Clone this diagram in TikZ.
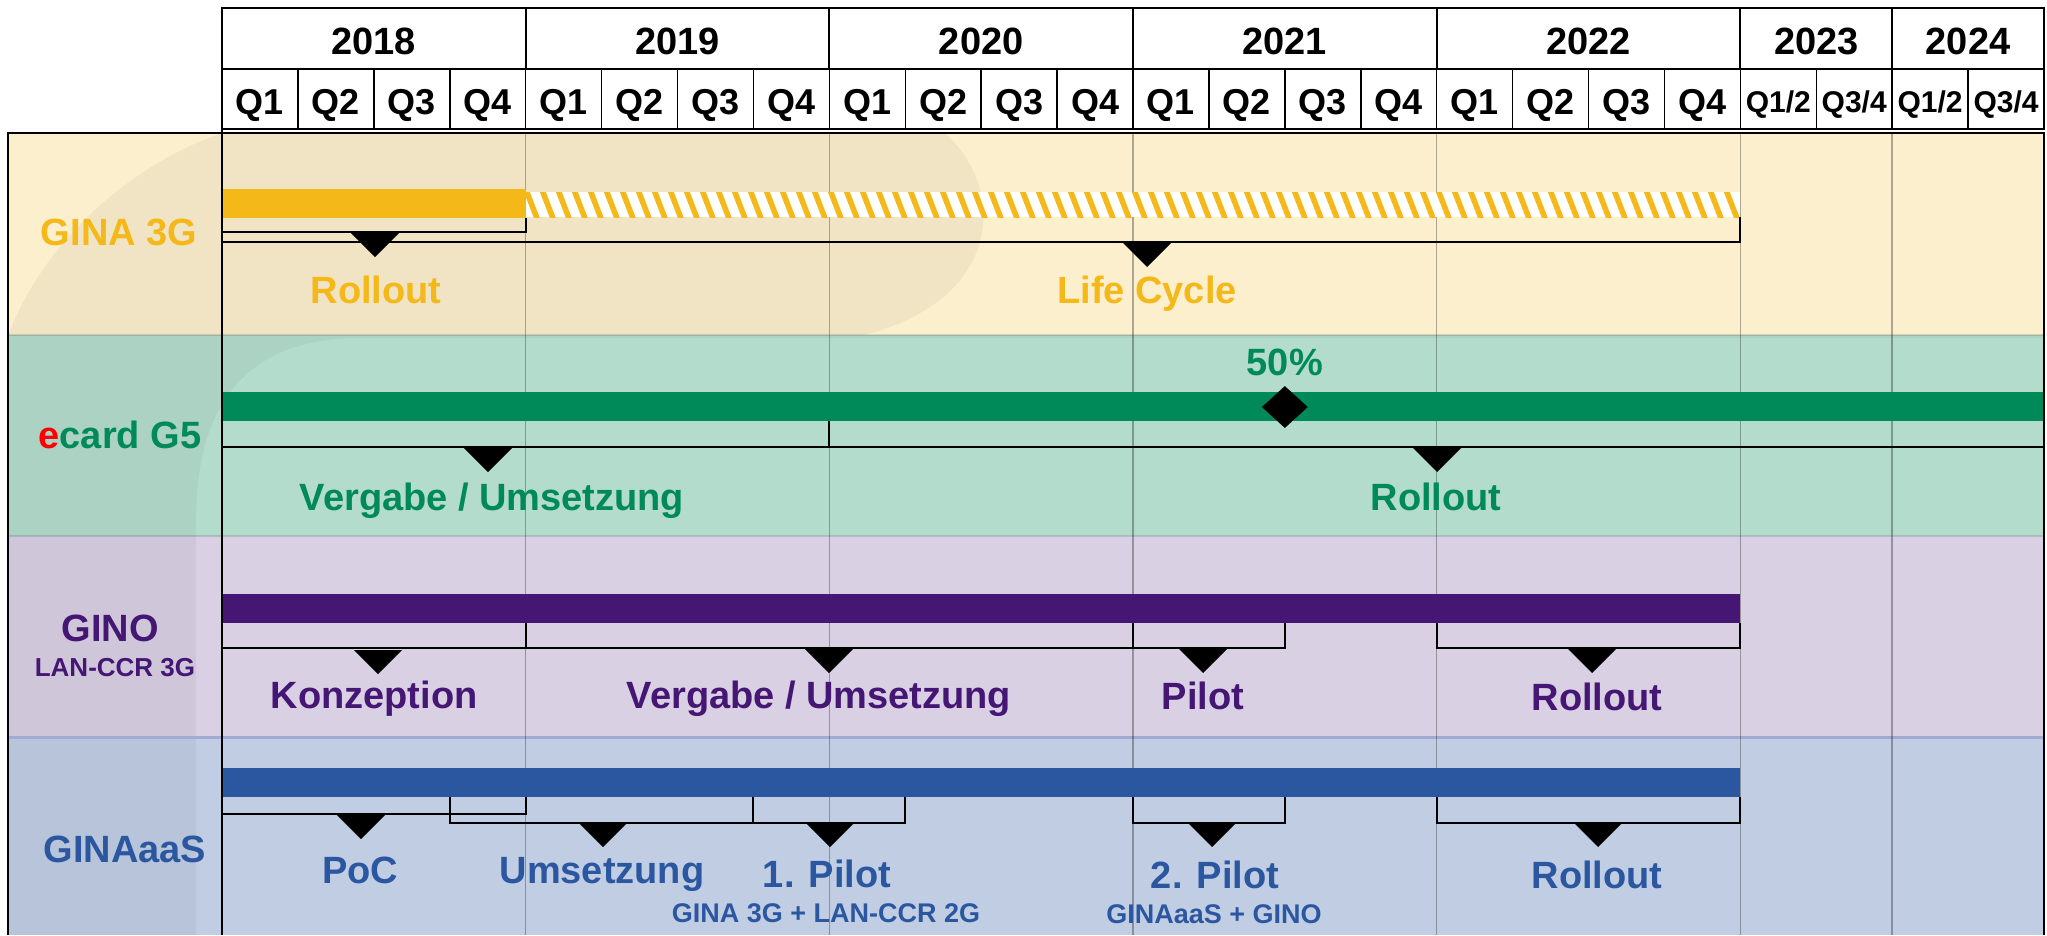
\documentclass[tikz,border=0pt]{standalone}
\usepackage{fontspec}
\setmainfont{Liberation Sans}
\usetikzlibrary{shapes.geometric}

\definecolor{ginaY}{HTML}{F4B818}
\definecolor{ecardG}{HTML}{008A5A}
\definecolor{ginoP}{HTML}{451674}
\definecolor{gaasB}{HTML}{2B57A0}
\definecolor{ginaBg}{HTML}{FCEFCD}
\definecolor{ecardBg}{HTML}{B3DCCC}
\definecolor{ginoBg}{HTML}{D9D0E3}
\definecolor{gaasBg}{HTML}{C0CDE3}
\definecolor{sepline}{HTML}{A3A9D2}

% x of the start of quarter #1 (0 = 2018 Q1)
\newcommand\qx[1]{222+75.917*(#1)}
% bracket under a bar: from quarter #1 to #2, bar bottom #3, bracket at #4
\newcommand\phasebr[4]{\draw[phase] ({\qx{#1}},#3) |- ({\qx{#2}},#4) -- ({\qx{#2}},#3);}
% black pointer below a bracket
\newcommand\phasetri[2]{\fill (#1-24,#2) -- (#1+24,#2) -- (#1,#2+24) -- cycle;}

\tikzset{
  lbl/.style={font=\bfseries\fontsize{38}{40}\selectfont, inner sep=0pt, anchor=base},
  sublbl/.style={font=\bfseries\fontsize{27}{28}\selectfont, inner sep=0pt, anchor=base},
  halflbl/.style={font=\bfseries\fontsize{30}{32}\selectfont, inner sep=0pt, anchor=base},
  phase/.style={line width=2pt},
  yearline/.style={draw=black, opacity=.3, line width=1.5pt},
  hdrline/.style={line width=2pt},
}

\begin{document}
\begin{tikzpicture}[x=1pt, y=-1pt]
\useasboundingbox (0,0) rectangle (2047,935);

% rows
\fill[ginaBg]  (8,133) rectangle (2044,335);
\fill[ecardBg] (8,335) rectangle (2044,536);
\fill[ginoBg]  (8,536) rectangle (2044,737);
\fill[gaasBg]  (8,737) rectangle (2044,935);

% faint swoosh behind the rows
\fill[black, opacity=.045] (8,335) .. controls (45,240) and (130,165) .. (222,133)
  -- (945,133) .. controls (1008,190) and (1002,300) .. (864,335) -- cycle;
\fill[black, opacity=.045] (8,335) -- (2044,335) -- (2044,338) -- (360,338)
  .. controls (250,338) and (196,400) .. (196,520) -- (196,935) -- (8,935) -- cycle;

% row separators
\draw[black, opacity=.12, line width=2pt] (8,335) -- (2044,335) (8,536) -- (2044,536);
\draw[sepline, line width=3pt] (8,737) -- (2044,737);

% year lines
\foreach \q in {4,8,12,16,20,22}
  \draw[yearline] ({\qx{\q}},133) -- ({\qx{\q}},935);

% GINA 3G
\fill[ginaY] (222,189) rectangle ({\qx{4}},218);
\begin{scope}
  \clip ({\qx{4}},192) rectangle ({\qx{20}},217);
  \fill[white] ({\qx{4}},192) rectangle ({\qx{20}},217);
  \foreach \i in {-1,...,76}
    \draw[ginaY, line width=5.5pt] ({\qx{4}+16*\i},189) -- ++(12,31);
\end{scope}
\phasebr{0}{4}{218}{232}
\phasebr{0}{20}{217}{242}
\phasetri{375}{233}
\phasetri{1147}{243}
\node[lbl, text=ginaY] (gina)    at (119,245)  {GINA 3G};
\node[lbl, text=ginaY] (gina-r)  at (376,303)  {Rollout};
\node[lbl, text=ginaY] (gina-lc) at (1147,303) {Life Cycle};

% ecard G5
\fill[ecardG] (222,392) rectangle (2044,421);
\phasebr{0}{8}{421}{447}
\phasebr{8}{24}{421}{447}
\phasetri{488}{448}
\phasetri{1437}{448}
\node[diamond, fill=black, minimum width=46pt, minimum height=42pt, inner sep=0pt] (half) at ({\qx{14}},407) {};
\node[lbl, text=ecardG] (half-l)  at ({\qx{14}},375) {50\%};
\node[lbl, text=ecardG] (ecard)   at (120,448) {\textcolor{red}{e}card G5};
\node[lbl, text=ecardG] (ecard-v) at (492,510) {Vergabe / Umsetzung};
\node[lbl, text=ecardG] (ecard-r) at (1436,510) {Rollout};

% GINO
\fill[ginoP] (222,594) rectangle ({\qx{20}},623);
\phasebr{0}{4}{623}{648}
\phasebr{4}{12}{623}{648}
\phasebr{12}{14}{623}{648}
\phasebr{16}{20}{623}{648}
\phasetri{378}{650}
\phasetri{829}{649}
\phasetri{1203}{649}
\phasetri{1592}{649}
\node[lbl, text=ginoP] (gino)    at (110,641) {GINO};
\node[font=\bfseries\fontsize{26}{27}\selectfont, inner sep=0pt, anchor=base, text=ginoP] (gino-sub) at (115,676) {LAN-CCR 3G};
\node[lbl, text=ginoP] (gino-k)  at (374,708)  {Konzeption};
\node[lbl, text=ginoP] (gino-v)  at (819,708)  {Vergabe / Umsetzung};
\node[lbl, text=ginoP] (gino-p)  at (1203,709) {Pilot};
\node[lbl, text=ginoP] (gino-r)  at (1597,710) {Rollout};

% GINAaaS
\fill[gaasB] (222,768) rectangle ({\qx{20}},797);
\phasebr{0}{4}{797}{814}
\phasebr{3}{7}{797}{823}
\phasebr{7}{9}{797}{823}
\phasebr{12}{14}{797}{823}
\phasebr{16}{20}{797}{823}
\phasetri{361}{815}
\phasetri{603}{823}
\phasetri{830}{823}
\phasetri{1212}{823}
\phasetri{1598}{823}
\node[lbl, text=gaasB] (gaas)     at (125,862)  {GINAaaS};
\node[lbl, text=gaasB] (gaas-poc) at (360,883)  {PoC};
\node[lbl, text=gaasB] (gaas-u)   at (602,883)  {Umsetzung};
\node[lbl, text=gaasB] (gaas-p1)  at (827,887)  {1. Pilot};
\node[sublbl, text=gaasB] (gaas-p1s) at (826,922) {GINA 3G + LAN-CCR 2G};
\node[lbl, text=gaasB] (gaas-p2)  at (1215,888) {2. Pilot};
\node[sublbl, text=gaasB] (gaas-p2s) at (1214,923) {GINAaaS + GINO};
\node[lbl, text=gaasB] (gaas-r)   at (1597,888) {Rollout};

% frame
\draw[hdrline] (8,935) |- (2044,133) -- (2044,935);
\draw[hdrline] (222,8) -- (222,935);

% header: years and quarters
\fill[white] (222,8) rectangle (2044,129);
\draw[hdrline] (222,8) rectangle (2044,129) (222,69) -- (2044,69);
\foreach \q in {1,...,23}
  \draw[line width=1.5pt] ({\qx{\q}},69) -- ({\qx{\q}},129);
\foreach \q in {4,8,12,16,20,22}
  \draw[hdrline] ({\qx{\q}},8) -- ({\qx{\q}},69);
\foreach \yr [count=\i from 0] in {2018,...,2022} {
  \node[lbl] (yr-\yr) at ({\qx{4*\i+2}},54) {\yr};
  \foreach \k in {1,...,4}
    \node[lbl, font=\bfseries\fontsize{36}{38}\selectfont] (q-\yr-\k) at ({\qx{4*\i+\k-0.5}},114) {Q\k};
}
\node[lbl] (yr-2023) at ({\qx{21}},54) {2023};
\node[lbl] (yr-2024) at ({\qx{23}},54) {2024};
\node[halflbl] (h-2023-1) at ({\qx{20.5}},112) {Q1/2};
\node[halflbl] (h-2023-2) at ({\qx{21.5}},112) {Q3/4};
\node[halflbl] (h-2024-1) at ({\qx{22.5}},112) {Q1/2};
\node[halflbl] (h-2024-2) at ({\qx{23.5}},112) {Q3/4};
\end{tikzpicture}
\end{document}
